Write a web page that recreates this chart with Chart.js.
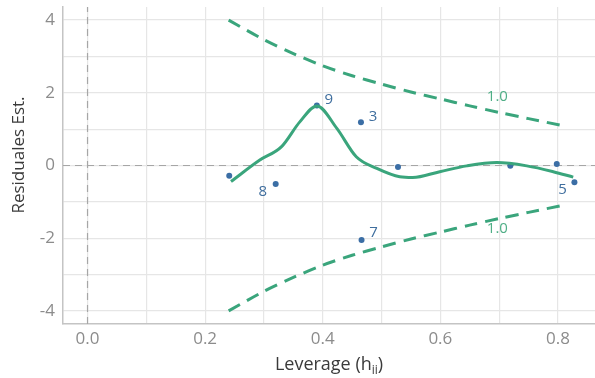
<!DOCTYPE html>
<html>
<head>
<meta charset="utf-8">
<script src="https://cdn.jsdelivr.net/npm/chart.js@4/dist/chart.umd.min.js"></script>
<style>
  html, body { margin: 0; padding: 0; background: #fff; }
  #chart { display: block; }
</style>
</head>
<body>
<canvas id="chart" width="595" height="378"></canvas>
<script>
// observations: leverage h_ii vs standardized residual
const leverage  = [0.241, 0.320, 0.390, 0.465, 0.466, 0.528, 0.719, 0.798, 0.828];
const residuals = [-0.28, -0.51, 1.65, 1.19, -2.05, -0.04, -0.01, 0.04, -0.46];
const obsIds    = ['', '8', '9', '3', '7', '', '', '', '5'];

// loess smooth through the residuals
const smoothX = [0.244, 0.293, 0.330, 0.361, 0.390, 0.424, 0.457, 0.492, 0.531, 0.553, 0.599, 0.645, 0.696, 0.747, 0.792, 0.826];
const smoothY = [-0.44, 0.15, 0.52, 1.20, 1.64, 1.02, 0.24, -0.08, -0.31, -0.33, -0.17, -0.01, 0.08, -0.01, -0.17, -0.32];

// Cook's distance contour (D = 1.0)
const cookX     = [0.24, 0.30, 0.35, 0.40, 0.45, 0.50, 0.55, 0.60, 0.65, 0.70, 0.75, 0.81];
const cookUpper = [4.00, 3.46, 3.08, 2.74, 2.47, 2.24, 2.02, 1.83, 1.64, 1.46, 1.29, 1.09];
const cookLower = [-4.00, -3.46, -3.08, -2.74, -2.47, -2.24, -2.02, -1.83, -1.64, -1.46, -1.29, -1.09];
const cookLevel = '1.0';

const xTicks = [0, 0.2, 0.4, 0.6, 0.8];
const yTicks = [-4, -2, 0, 2, 4];

const X_MIN = -0.0417, X_MAX = 0.863;
const Y_MIN = -4.36, Y_MAX = 4.36;

const GREEN = '#3aa57c';
const BLUE = '#3b6ea5';
const FONT = '"Open Sans", "Noto Sans", sans-serif';

const pts = (xs, ys) => xs.map((x, i) => ({ x, y: ys[i] }));

const textPlugin = {
  id: 'texts',
  afterDatasetsDraw(chart){
    const { ctx, scales: { x, y } } = chart;
    ctx.save();
    ctx.font = '15px ' + FONT;
    ctx.textAlign = 'center';
    ctx.textBaseline = 'middle';
    // observation ids, nudged off their points
    ctx.fillStyle = '#3f6e9e';
    const nudge = { '8': [-13, 8], '9': [12, -6], '3': [12, -6], '7': [12, -7], '5': [-12, 8] };
    obsIds.forEach((id, i) => {
      if(!id) return;
      const [dx, dy] = nudge[id];
      ctx.fillText(id, x.getPixelForValue(leverage[i]) + dx, y.getPixelForValue(residuals[i]) + dy);
    });
    // contour level labels
    ctx.fillStyle = '#4fae86';
    ctx.fillText(cookLevel, x.getPixelForValue(0.697), y.getPixelForValue(1.88));
    ctx.fillText(cookLevel, x.getPixelForValue(0.697), y.getPixelForValue(-1.74));
    ctx.restore();
  },
  afterDraw(chart){
    const { ctx, chartArea } = chart;
    ctx.save();
    ctx.fillStyle = '#3a3a3a';
    ctx.textBaseline = 'alphabetic';
    // x title with subscript ii
    const big = '18px ' + FONT, small = '12px ' + FONT;
    ctx.font = big;
    const a = 'Leverage (h', c = ')';
    const wa = ctx.measureText(a).width, wc = ctx.measureText(c).width;
    ctx.font = small;
    const wb = ctx.measureText('ii').width;
    let cx = (chartArea.left + chartArea.right) / 2 - (wa + wb + wc) / 2;
    const by = 370;
    ctx.textAlign = 'left';
    ctx.font = big; ctx.fillText(a, cx, by); cx += wa;
    ctx.font = small; ctx.fillText('ii', cx, by + 4); cx += wb;
    ctx.font = big; ctx.fillText(c, cx, by);
    // y title
    ctx.translate(24, 155);
    ctx.rotate(-Math.PI / 2);
    ctx.textAlign = 'center';
    ctx.font = '17px ' + FONT;
    ctx.fillText('Residuales Est.', 0, 0);
    ctx.restore();
  }
};

new Chart(document.getElementById('chart'), {
  type: 'scatter',
  data: {
    datasets: [
      { data: [{ x: X_MIN, y: 0 }, { x: X_MAX, y: 0 }], showLine: true, borderColor: '#a6a6a6', borderWidth: 1.2, borderDash: [7, 5], pointRadius: 0, order: 5 },
      { data: [{ x: 0, y: Y_MIN }, { x: 0, y: Y_MAX }], showLine: true, borderColor: '#a6a6a6', borderWidth: 1.2, borderDash: [7, 5], pointRadius: 0, order: 5 },
      { data: pts(cookX, cookUpper), showLine: true, borderColor: GREEN, borderWidth: 3, borderDash: [13, 8], pointRadius: 0, tension: 0.3, order: 3 },
      { data: pts(cookX, cookLower), showLine: true, borderColor: GREEN, borderWidth: 3, borderDash: [13, 8], pointRadius: 0, tension: 0.3, order: 3 },
      { data: pts(leverage, residuals), pointRadius: 3, pointBackgroundColor: BLUE, pointBorderWidth: 0, order: 2 },
      { data: pts(smoothX, smoothY), showLine: true, borderColor: GREEN, borderWidth: 3, pointRadius: 0, cubicInterpolationMode: 'monotone', order: 1 }
    ]
  },
  options: {
    responsive: false,
    animation: false,
    devicePixelRatio: 1,
    layout: { autoPadding: false, padding: { top: 7, right: 0, left: 0, bottom: 0 } },
    plugins: { legend: { display: false }, tooltip: { enabled: false } },
    scales: {
      x: {
        type: 'linear', min: X_MIN, max: X_MAX,
        afterFit: s => { s.height = 54; s.paddingLeft = 0; s.paddingRight = 0; },
        afterBuildTicks: s => { s.ticks = [0, 0.1, 0.2, 0.3, 0.4, 0.5, 0.6, 0.7, 0.8].map(v => ({ value: v })); },
        ticks: {
          autoSkip: false, maxRotation: 0, padding: 5, color: '#8c8c8c', font: { size: 17, family: FONT },
          callback: v => xTicks.some(t => Math.abs(t - v) < 1e-6) ? v.toFixed(1) : ''
        },
        grid: { color: '#e6e6e6', lineWidth: 1.2, drawTicks: false },
        border: { display: true, color: '#c4c4c4', width: 1.5 }
      },
      y: {
        min: Y_MIN, max: Y_MAX,
        afterFit: s => { s.width = 63; s.paddingTop = 0; s.paddingBottom = 0; },
        afterBuildTicks: s => { s.ticks = [-4, -3, -2, -1, 0, 1, 2, 3, 4].map(v => ({ value: v })); },
        ticks: {
          autoSkip: false, padding: 8, color: '#8c8c8c', font: { size: 17, family: FONT },
          callback: v => yTicks.includes(v) ? String(v) : ''
        },
        grid: { color: '#e6e6e6', lineWidth: 1.2, drawTicks: false },
        border: { display: true, color: '#c4c4c4', width: 1.5 }
      }
    }
  },
  plugins: [textPlugin]
});
</script>
</body>
</html>
